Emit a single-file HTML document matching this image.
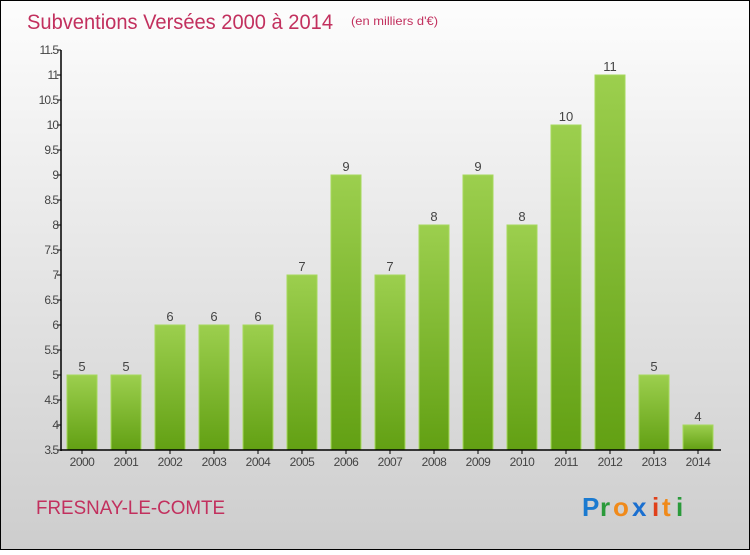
<!DOCTYPE html>
<html><head><meta charset="utf-8"><style>
body{margin:0;width:750px;height:550px;overflow:hidden;font-family:"Liberation Sans",sans-serif}
</style></head><body>
<svg id="c" width="750" height="550" xmlns="http://www.w3.org/2000/svg">
<defs>
<linearGradient id="bg" x1="0" y1="0" x2="0" y2="1"><stop offset="0" stop-color="#fdfdfd"/><stop offset="1" stop-color="#cdcdcd"/></linearGradient>
<linearGradient id="bar" x1="0" y1="0" x2="0" y2="1"><stop offset="0" stop-color="#9ccf4e"/><stop offset="1" stop-color="#62a013"/></linearGradient>
</defs>
<rect x="0.5" y="0.5" width="749" height="549" fill="url(#bg)" stroke="#000"/>
<text x="27" y="29" font-size="21" fill="#c2305e" textLength="306" lengthAdjust="spacingAndGlyphs">Subventions Versées 2000 à 2014</text>
<text x="351" y="25" font-size="12" fill="#c2305e" textLength="87" lengthAdjust="spacingAndGlyphs">(en milliers d'€)</text>
<text x="36" y="514" font-size="19" fill="#c2305e" textLength="189" lengthAdjust="spacingAndGlyphs">FRESNAY-LE-COMTE</text>
<g font-size="26" font-weight="bold">
<text x="582" y="516" fill="#1a7ad0">P</text><text x="600" y="516" fill="#2a9a3a">r</text><text x="613" y="516" fill="#f08a1a">o</text><text x="632" y="516" fill="#1a6fd0">x</text><text x="652" y="516" fill="#e0401a">i</text><text x="662" y="516" fill="#f08a1a">t</text><text x="676" y="516" fill="#2a9a3a">i</text>
</g>
<g id="plot"></g>
</svg>
<script>
const years=["2000","2001","2002","2003","2004","2005","2006","2007","2008","2009","2010","2011","2012","2013","2014"];
const values=[5,5,6,6,6,7,9,7,8,9,8,10,11,5,4];
const ticks=[3.5,4,4.5,5,5.5,6,6.5,7,7.5,8,8.5,9,9.5,10,10.5,11,11.5];
const NS="http://www.w3.org/2000/svg";
const g=document.getElementById('plot');
const y=v=>450-(v-3.5)*50;
const x=i=>82+i*44;
function mk(t,a){const e=document.createElementNS(NS,t);for(const k in a)e.setAttribute(k,a[k]);g.appendChild(e);return e;}
ticks.forEach(t=>{
  const l=mk('line',{x1:57,x2:61,y1:y(t),y2:y(t),stroke:'#000'});
  
  
  const tx=mk('text',{x:58,y:y(t)+4,'font-size':12,'text-anchor':'end',fill:'#444','letter-spacing':'-1'});
  tx.textContent=String(t);
  
  
});
values.forEach((v,i)=>{
  const r=mk('rect',{x:x(i)-15,y:y(v),width:30,height:450-y(v),fill:'url(#bar)',stroke:'#a6d95c','stroke-width':1});
  
  
  const vl=mk('text',{x:x(i),y:y(v)-4,'font-size':13,'text-anchor':'middle',fill:'#444'});
  vl.textContent=String(v);
  
  
  const xl=mk('text',{x:x(i),y:466,'font-size':12,'text-anchor':'middle',fill:'#444','letter-spacing':'-0.5'});
  xl.textContent=years[i];
  
  
  const xt=mk('line',{x1:x(i),x2:x(i),y1:450,y2:454,stroke:'#000'});
  
  
});
const ya=mk('line',{x1:61,x2:61,y1:50,y2:451,stroke:'#000','stroke-width':1.5});


const xa=mk('line',{x1:61,x2:721,y1:450,y2:450,stroke:'#000','stroke-width':1.5});


</script>
</body></html>
